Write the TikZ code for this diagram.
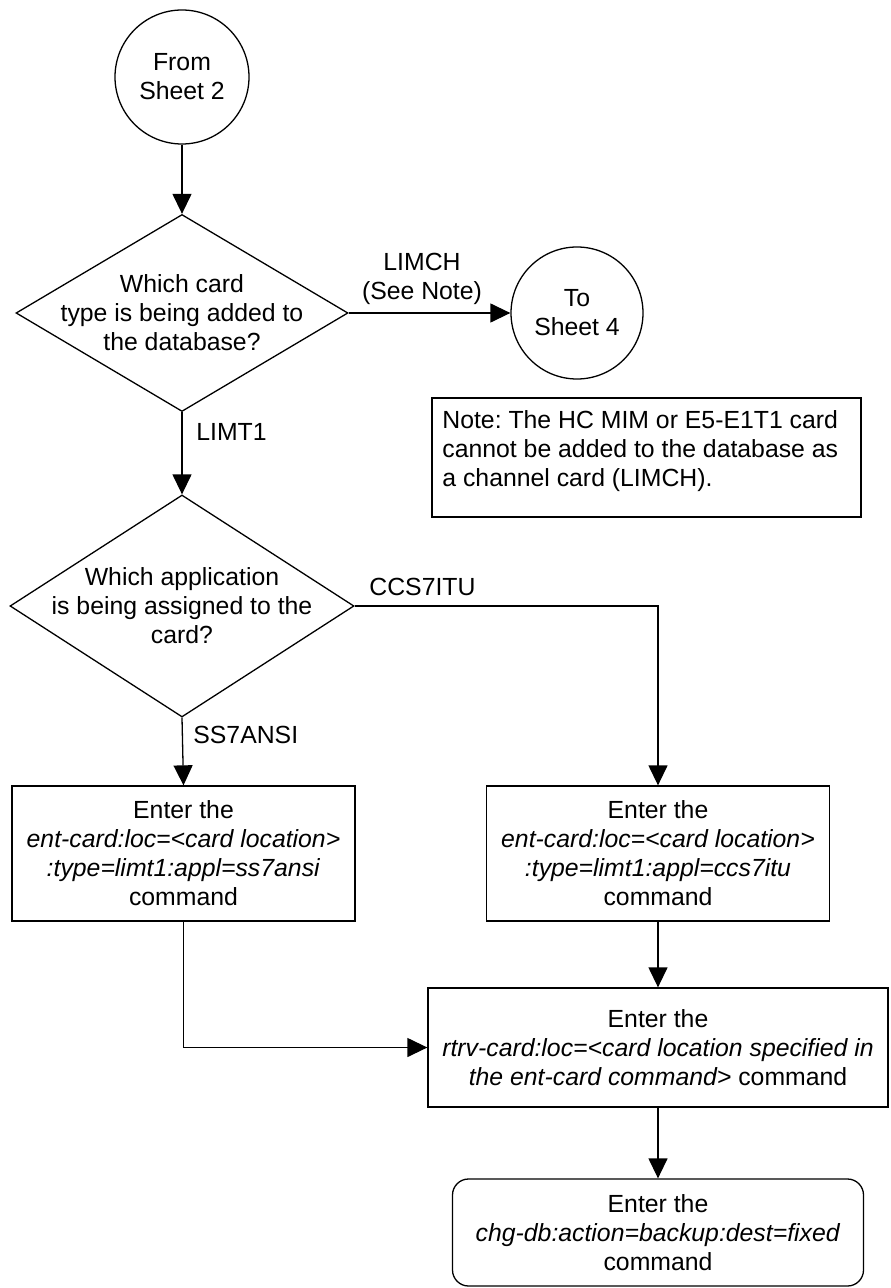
\documentclass[tikz,border=0pt]{standalone}
\usepackage{fontspec}
\setmainfont{Liberation Sans}
\usetikzlibrary{shapes.geometric,arrows.meta}
\frenchspacing
\begin{document}
\begin{tikzpicture}[x=0.5pt,y=-0.5pt,
  every node/.style={font=\fontsize{12.4}{14.5}\selectfont, inner sep=0pt, align=center},
  conn/.style={line width=0.65pt},
  arr/.style={conn,-{Triangle[length=10pt,width=9.5pt]}},
  termcircle/.style={draw, line width=0.65pt, circle, minimum size=#1},
  decision/.style={draw, line width=0.65pt, diamond, inner sep=0pt},
  procbox/.style={draw, line width=0.65pt, rectangle},
  lbl/.style={anchor=west}
]
\path[use as bounding box, fill=white] (0,0) rectangle (890,1288);

% nodes
\node[termcircle=67pt] (from) at (182,77) {From\\Sheet 2};
\node[decision, minimum width=166pt, minimum height=98.5pt] (d1) at (182,313) {};
\node (d1t) at (182,313) {Which card\\type is being added to\\the database?};
\node (limch) at (422,279) {LIMCH\\(See Note)};
\node[termcircle=66pt] (to) at (577,313) {To\\Sheet 4};
\node[procbox, minimum width=214.5pt, minimum height=59.5pt] (note) at (646.5,457.5) {};
\node[anchor=west, align=left] (notet) at (442,451) {Note: The HC MIM or E5-E1T1 card\\cannot be added to the database as\\a channel card (LIMCH).};
\node[lbl] (limt1) at (196,432) {LIMT1};

\node[decision, minimum width=172pt, minimum height=111pt] (d2) at (182,606) {};
\node (d2t) at (182,606) {Which application\\is being assigned to the\\card?};
\node[lbl] (ccs) at (369,587) {CCS7ITU};
\node[lbl] (ss7) at (193,735) {SS7ANSI};

\node[procbox, minimum width=171.5pt, minimum height=67.5pt] (boxl) at (183.5,853.5)
  {Enter the\\\textit{ent-card:loc=<card location>}\\\textit{:type=limt1:appl=ss7ansi}\\command};
\node[procbox, minimum width=171.5pt, minimum height=67.5pt] (boxr) at (658,853.5)
  {Enter the\\\textit{ent-card:loc=<card location>}\\\textit{:type=limt1:appl=ccs7itu}\\command};
\node[procbox, minimum width=230pt, minimum height=59.5pt] (rtrv) at (658,1047.5)
  {Enter the\\\textit{rtrv-card:loc=<card location specified in}\\\textit{the ent-card command>} command};
\node[procbox, rounded corners=8pt, minimum width=205.5pt, minimum height=53.5pt] (final) at (658,1232.5)
  {Enter the\\\textit{chg-db:action=backup:dest=fixed}\\command};

% connectors
\draw[arr] (from.south) -- (d1.north);
\draw[arr] (d1.east) -- (to.west);
\draw[arr] (d1.south) -- (d2.north);
\draw[arr] (d2.east) -| (boxr.north);
\draw[arr] (d2.south) -- (boxl.north);
\draw[arr] (boxr.south) -- (rtrv.north);
\draw[arr] (boxl.south) |- (rtrv.west);
\draw[arr] (rtrv.south) -- (final.north);
\end{tikzpicture}
\end{document}
